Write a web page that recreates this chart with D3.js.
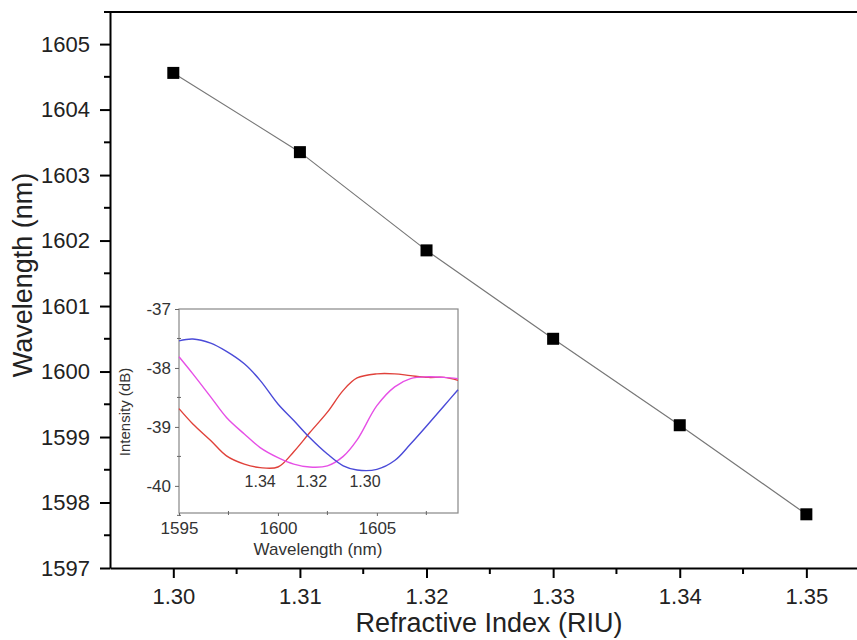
<!DOCTYPE html>
<html>
<head>
<meta charset="utf-8">
<script src="https://cdn.jsdelivr.net/npm/d3@7"></script>
<style>
  body { margin: 0; background: #fff; }
  text { font-family: Arial, "Liberation Sans", sans-serif; }
</style>
</head>
<body>
<script>
// main series
var riu = [1.30, 1.31, 1.32, 1.33, 1.34, 1.35];
var wavelength = [1604.56, 1603.35, 1601.85, 1600.50, 1599.18, 1597.82];
var xTicks = [1.30, 1.31, 1.32, 1.33, 1.34, 1.35];
var yTicks = [1597, 1598, 1599, 1600, 1601, 1602, 1603, 1604, 1605];

// inset spectra
var specX = [1595, 1595.7, 1596.6, 1597.4, 1598.3, 1599.1, 1600.0, 1600.8, 1601.6, 1602.5, 1603.3, 1604.0, 1605.0, 1605.9, 1606.7, 1607.6, 1608.4, 1609.1];
var spec130 = [-37.54, -37.51, -37.58, -37.72, -37.93, -38.21, -38.61, -38.89, -39.18, -39.46, -39.66, -39.73, -39.72, -39.57, -39.29, -38.95, -38.64, -38.37];
var spec132 = [-37.81, -38.10, -38.49, -38.84, -39.12, -39.35, -39.52, -39.63, -39.68, -39.66, -39.50, -39.22, -38.64, -38.32, -38.18, -38.15, -38.16, -38.18];
var spec134 = [-38.69, -38.95, -39.23, -39.49, -39.63, -39.69, -39.68, -39.42, -39.10, -38.75, -38.38, -38.17, -38.10, -38.10, -38.13, -38.16, -38.16, -38.21];
var insetXTicks = [1595, 1600, 1605];
var insetYTicks = [-40, -39, -38, -37];
var curveLabels = ["1.34", "1.32", "1.30"];
var curveLabelX = [1599.1, 1601.7, 1604.4];

var width = 857, height = 640;
var svg = d3.select("body").append("svg")
  .attr("width", width).attr("height", height);

var x = d3.scaleLinear().domain([1.295, 1.354]).range([110, 857]);
var y = d3.scaleLinear().domain([1597, 1605.49]).range([568, 12]);

// frame top line
svg.append("line").attr("x1", 104).attr("x2", 857).attr("y1", 12).attr("y2", 12)
  .attr("stroke", "#000").attr("stroke-width", 2);

// minor ticks
var xMinor = d3.range(1.305, 1.354, 0.01);
var yMinor = d3.range(1597.5, 1605.1, 1);
svg.append("g").selectAll("line").data(xMinor).enter().append("line")
  .attr("x1", function(d){ return x(d); }).attr("x2", function(d){ return x(d); })
  .attr("y1", 568).attr("y2", 574).attr("stroke", "#000").attr("stroke-width", 2);
svg.append("g").selectAll("line").data(yMinor).enter().append("line")
  .attr("y1", function(d){ return y(d); }).attr("y2", function(d){ return y(d); })
  .attr("x1", 110).attr("x2", 104).attr("stroke", "#000").attr("stroke-width", 2);

var xAxis = d3.axisBottom(x).tickValues(xTicks).tickSize(10).tickSizeOuter(0)
  .tickPadding(10).tickFormat(d3.format(".2f"));
var gx = svg.append("g").attr("transform", "translate(0,568)").call(xAxis);
gx.select(".domain").attr("stroke-width", 2);
gx.selectAll(".tick line").attr("stroke-width", 2);
gx.selectAll("text").attr("font-size", 22).attr("fill", "#222");

var yAxis = d3.axisLeft(y).tickValues(yTicks).tickSize(10).tickSizeOuter(0)
  .tickPadding(10).tickFormat(d3.format("d"));
var gy = svg.append("g").attr("transform", "translate(110,0)").call(yAxis);
gy.select(".domain").attr("stroke-width", 2);
gy.selectAll(".tick line").attr("stroke-width", 2);
gy.selectAll("text").attr("font-size", 22).attr("fill", "#222");

svg.append("text").attr("x", 489).attr("y", 632).attr("text-anchor", "middle")
  .attr("font-size", 27).attr("fill", "#222").text("Refractive Index (RIU)");
svg.append("text").attr("transform", "translate(32,275) rotate(-90)")
  .attr("text-anchor", "middle").attr("font-size", 27).attr("fill", "#222")
  .text("Wavelength (nm)");

// main line and markers
var pts = riu.map(function(r, i){ return [r, wavelength[i]]; });
svg.append("path").datum(pts)
  .attr("d", d3.line().x(function(d){ return x(d[0]); }).y(function(d){ return y(d[1]); }))
  .attr("fill", "none").attr("stroke", "#777").attr("stroke-width", 1.2);
svg.append("g").selectAll("rect").data(pts).enter().append("rect")
  .attr("x", function(d){ return x(d[0]) - 6; })
  .attr("y", function(d){ return y(d[1]) - 6; })
  .attr("width", 12).attr("height", 12).attr("fill", "#000");

// inset
var ix = d3.scaleLinear().domain([1595, 1609.1]).range([179, 458]);
var iy = d3.scaleLinear().domain([-40.46, -37]).range([513, 309]);
var inset = svg.append("g");
inset.append("rect").attr("x", 179).attr("y", 309).attr("width", 279).attr("height", 204)
  .attr("fill", "#fff").attr("stroke", "#888").attr("stroke-width", 1.2);

var ixAxis = d3.axisBottom(ix).tickValues(insetXTicks).tickSize(3).tickSizeOuter(0)
  .tickPadding(6).tickFormat(d3.format("d"));
var gix = inset.append("g").attr("transform", "translate(0,513)").call(ixAxis);
gix.select(".domain").remove();
gix.selectAll(".tick line").attr("stroke", "#666");
gix.selectAll("text").attr("font-size", 17).attr("fill", "#333");
inset.append("g").selectAll("line").data([1597.5, 1602.5, 1607.5]).enter().append("line")
  .attr("x1", function(d){ return ix(d); }).attr("x2", function(d){ return ix(d); })
  .attr("y1", 511).attr("y2", 515).attr("stroke", "#666");

var iyAxis = d3.axisLeft(iy).tickValues(insetYTicks).tickSize(4).tickSizeOuter(0)
  .tickPadding(4).tickFormat(function(d){ return d3.format("d")(d).replace("\u2212", "-"); });
var giy = inset.append("g").attr("transform", "translate(179,0)").call(iyAxis);
giy.select(".domain").remove();
giy.selectAll(".tick line").attr("stroke", "#666");
giy.selectAll("text").attr("font-size", 17).attr("fill", "#333");
inset.append("g").selectAll("line").data([-40.5, -39.5, -38.5, -37.5]).enter().append("line")
  .attr("y1", function(d){ return iy(d); }).attr("y2", function(d){ return iy(d); })
  .attr("x1", 177).attr("x2", 181).attr("stroke", "#666");

inset.append("text").attr("x", 318).attr("y", 555).attr("text-anchor", "middle")
  .attr("font-size", 17).attr("fill", "#333").text("Wavelength (nm)");
inset.append("text").attr("transform", "translate(130,412) rotate(-90)")
  .attr("text-anchor", "middle").attr("font-size", 15).attr("fill", "#333")
  .text("Intensity (dB)");

var curveLine = d3.line().curve(d3.curveCatmullRom)
  .x(function(d){ return ix(d[0]); }).y(function(d){ return iy(d[1]); });
var series = [[spec134, "#e0413a"], [spec132, "#e64fe6"], [spec130, "#4a4ad8"]];
series.forEach(function(s){
  inset.append("path").datum(specX.map(function(w, i){ return [w, s[0][i]]; }))
    .attr("d", curveLine).attr("fill", "none").attr("stroke", s[1]).attr("stroke-width", 1.4);
});

inset.selectAll(".clabel").data(curveLabels).enter().append("text")
  .attr("class", "clabel")
  .attr("x", function(d, i){ return ix(curveLabelX[i]); })
  .attr("y", 487).attr("text-anchor", "middle")
  .attr("font-size", 16).attr("fill", "#333").text(function(d){ return d; });
</script>
</body>
</html>
